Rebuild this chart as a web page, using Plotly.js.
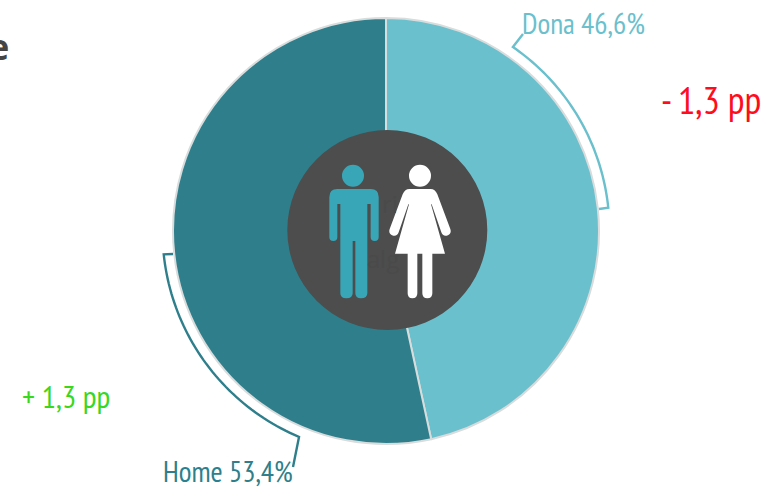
<!DOCTYPE html>
<html>
<head>
<meta charset="utf-8">
<script src="https://cdn.plot.ly/plotly-3.0.1.min.js"></script>
<style>html,body{margin:0;padding:0;background:#fff;overflow:hidden}</style>
</head>
<body>
<div id="chart" style="width:763px;height:491px"></div>
<script>
const categories = ["Dona", "Home"];
const shares = [46.6, 53.4];
const shareLabels = ["Dona 46,6%", "Home 53,4%"];
const changes = ["- 1,3 pp", "+ 1,3 pp"];
const sliceColors = ["#6ac0cd", "#2e7f8b"];

const W = 763, H = 491;
const FONT = '"Liberation Sans Narrow","PT Sans Narrow","Roboto Condensed","Liberation Sans",sans-serif';
const px = x => x / W;
const py = y => 1 - y / H;
const CX = 386, CY = 231, R = 213;

function polar(r, deg) {
  const a = deg * Math.PI / 180;
  return [CX + r * Math.sin(a), CY - r * Math.cos(a)];
}
function bracket(a0, a1, start, end) {
  const pts = [start];
  for (let i = 0; i <= 48; i++) pts.push(polar(223.5, a0 + (a1 - a0) * i / 48));
  pts.push(end);
  return pts.map((p, i) => (i ? "L" : "M") + px(p[0]).toFixed(5) + "," + py(p[1]).toFixed(5)).join(" ");
}
// icon outlines are written in a 3x local grid anchored at (280,125)
function icon(d) {
  return d.replace(/(-?\d+(?:\.\d+)?),(-?\d+(?:\.\d+)?)/g, (m, x, y) =>
    px(280 + x / 3).toFixed(5) + "," + py(125 + y / 3).toFixed(5));
}
function disc(cx, cy, r, color) {
  return {type: "circle", xref: "paper", yref: "paper", layer: "above",
    x0: px(cx - r), x1: px(cx + r), y0: py(cy + r), y1: py(cy - r),
    fillcolor: color, line: {width: 0}};
}
function outline(d, color) {
  return {type: "path", xref: "paper", yref: "paper", layer: "above", path: icon(d),
    fillcolor: color, line: {width: 0}};
}
function stroke(d, color) {
  return {type: "path", xref: "paper", yref: "paper", layer: "above", path: d,
    line: {color: color, width: 2.4}};
}
const man = "M172,192 L272,192 Q296,192 296,216 L296,337 Q296,348 284,348 Q272,348 272,337 L272,237 L262,237 L262,505 Q262,520 243,520 Q226,520 226,505 L226,348 L218,348 L218,505 Q218,520 199,520 Q181,520 181,505 L181,237 L172,237 L172,337 Q172,348 160,348 Q148,348 148,337 L148,216 Q148,192 172,192 Z";
const woman = "M388,192 L452,192 Q465,192 472,208 L511,312 Q516,328 500,332 Q488,334 484,322 L455,238 L453,238 L495,386 L457,386 L457,505 Q457,520 442,520 Q427,520 427,505 L427,386 L412,386 L412,505 Q412,520 397,520 Q383,520 383,505 L383,386 L345,386 L387,238 L385,238 L356,322 Q352,334 340,332 Q324,328 329,312 L368,208 Q375,192 388,192 Z";

function label(text, x, y, anchor, color, size, family, weight) {
  return {text: text, xref: "paper", yref: "paper", x: px(x), y: py(y), xanchor: anchor, yanchor: "middle",
    showarrow: false, align: anchor, font: {family: family || FONT, size: size, color: color, weight: weight || 400}};
}

const data = [{
  type: "pie",
  labels: categories,
  values: shares,
  sort: false,
  direction: "clockwise",
  rotation: 0,
  textinfo: "none",
  hoverinfo: "label+percent",
  marker: {colors: sliceColors, line: {color: "#d9dcdc", width: 2}},
  domain: {x: [px(CX - R), px(CX + R)], y: [py(CY + R), py(CY - R)]},
  showlegend: false
}];

const layout = {
  width: W, height: H,
  margin: {l: 0, r: 0, t: 0, b: 0},
  paper_bgcolor: "#ffffff",
  showlegend: false,
  shapes: [
    disc(387.3, 230, 100, "#4d4d4d"),
    disc(353, 175.7, 11, "#39a6b8"),
    disc(420, 175.7, 11, "#ffffff"),
    outline(man, "#39a6b8"),
    outline(woman, "#ffffff"),
    stroke(bracket(34.6, 84, [523, 34], [599, 209]), sliceColors[0]),
    stroke(bracket(202.9, 264, [293, 467], [173, 254]), sliceColors[1])
  ],
  annotations: [
    label(shareLabels[0], 520, 23, "left", sliceColors[0], 29.4),
    label(shareLabels[1], 161, 471, "left", sliceColors[1], 29.4),
    label(changes[0], 659, 100, "left", "#ff0d1d", 38.5),
    label(changes[1], 20, 396, "left", "#3ad81c", 31.6),
    label("e", 11, 46, "right", "#454545", 36, "Open Sans", 700),
    label("ri", 380, 204, "left", "#4a4a4a", 24, "Open Sans"),
    label("alg", 365, 258, "left", "#4a4a4a", 24, "Open Sans")
  ]
};

Plotly.newPlot("chart", data, layout, {displayModeBar: false, staticPlot: true});
</script>
</body>
</html>
